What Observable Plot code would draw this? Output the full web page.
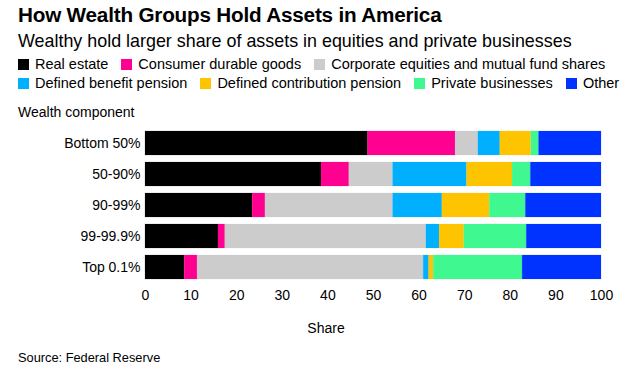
<!DOCTYPE html>
<html><head><meta charset="utf-8">
<script src="https://cdn.jsdelivr.net/npm/d3@7"></script>
<script src="https://cdn.jsdelivr.net/npm/@observablehq/plot@0.6"></script>
<style>
body{margin:0;background:#fff;font-family:"Liberation Sans",Arial,sans-serif;color:#000;width:629px;height:369px;overflow:hidden;position:relative}
.abs{position:absolute;white-space:nowrap}
#title{left:18px;top:3px;font-size:20.7px;font-weight:bold;letter-spacing:-0.2px}
#subtitle{left:18px;top:31px;font-size:17.9px}
.leg{left:18px;font-size:14.5px;display:flex;gap:13px}
.leg span{display:flex;align-items:center}
.leg i{display:inline-block;width:11px;height:11px;margin-right:6px}
#ylab{left:18px;top:104px;font-size:14px}
#chart{left:0;top:124px}
#share{left:326px;transform:translateX(-50%);top:320px;font-size:14px}
#source{left:18px;top:350px;font-size:12.8px}
</style></head><body>
<div class="abs" id="title">How Wealth Groups Hold Assets in America</div>
<div class="abs" id="subtitle">Wealthy hold larger share of assets in equities and private businesses</div>
<div class="abs leg" id="leg1" style="top:56px"></div>
<div class="abs leg" id="leg2" style="top:75px"></div>
<div class="abs" id="ylab">Wealth component</div>
<div class="abs" id="chart"></div>
<div class="abs" id="share">Share</div>
<div class="abs" id="source">Source: Federal Reserve</div>
<script>
const groups = ["Bottom 50%", "50-90%", "90-99%", "99-99.9%", "Top 0.1%"];
const components = ["Real estate", "Consumer durable goods", "Corporate equities and mutual fund shares", "Defined benefit pension", "Defined contribution pension", "Private businesses", "Other"];
const colors = ["#000000", "#ff0090", "#cccccc", "#00b0ff", "#ffc400", "#40f890", "#0033ff"];
const realEstate = [48.8, 38.6, 23.5, 16.0, 8.6];
const consumerDurables = [19.2, 6.1, 2.8, 1.5, 2.8];
const equities = [5.0, 9.6, 28.0, 44.1, 49.6];
const definedBenefit = [4.8, 16.2, 10.8, 2.9, 1.2];
const definedContribution = [6.8, 10.0, 10.4, 5.4, 1.0];
const privateBusinesses = [1.7, 4.0, 7.9, 13.7, 19.5];
const other = [13.7, 15.5, 16.6, 16.4, 17.3];
const xTicks = [0, 10, 20, 30, 40, 50, 60, 70, 80, 90, 100];

const series = [realEstate, consumerDurables, equities, definedBenefit, definedContribution, privateBusinesses, other];
const data = [];
groups.forEach((g, gi) => series.forEach((s, ci) => data.push({group: g, component: components[ci], value: s[gi]})));

// legend
const legRows = [components.slice(0, 3), components.slice(3)];
legRows.forEach((row, ri) => {
  const el = document.getElementById("leg" + (ri + 1));
  row.forEach(c => {
    const sp = document.createElement("span");
    const i = document.createElement("i");
    i.style.background = colors[components.indexOf(c)];
    sp.appendChild(i);
    sp.appendChild(document.createTextNode(c));
    el.appendChild(sp);
  });
});

const plot = Plot.plot({
  width: 629,
  height: 187,
  marginLeft: 145,
  marginRight: 28,
  marginTop: 0,
  marginBottom: 25,
  style: {fontFamily: "Liberation Sans, Arial, sans-serif", fontSize: "14px", color: "#000", background: "#fff"},
  x: {domain: [0, 100], ticks: xTicks, tickSize: 0, tickPadding: 4, label: null},
  y: {domain: groups, padding: 0.22, tickSize: 0, tickPadding: 5, label: null},
  color: {domain: components, range: colors},
  marks: [
    Plot.barX(data, Plot.stackX({x: "value", y: "group", fill: "component", order: components, stroke: "component", strokeOpacity: 0.15, strokeWidth: 1, inset: 0}))
  ]
});
document.getElementById("chart").appendChild(plot);
</script>
</body></html>
